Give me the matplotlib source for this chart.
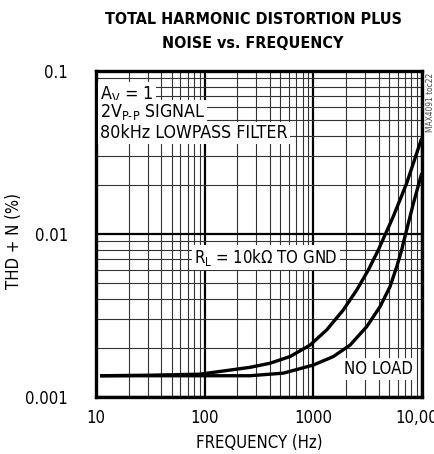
import matplotlib.pyplot as plt
plt.matplotlib.use('Agg')
from matplotlib.ticker import LogLocator, NullFormatter, FixedLocator, FixedFormatter

plt.rcParams['font.family'] = ['DejaVu Sans']
plt.rcParams['font.stretch'] = 'condensed'

# RL = 10k to GND curve (frequency Hz, THD+N %)
freq_10k = [10.9, 31, 91, 262, 400, 612, 935, 1333, 1896, 2519, 3222, 3983,
            5470, 6310, 7270, 10000]
thd_10k = [0.00135, 0.00136, 0.00138, 0.00152, 0.00161, 0.00177, 0.00208, 0.00258,
           0.00342, 0.00453, 0.00601, 0.00798, 0.0128, 0.0162, 0.0205, 0.0387]

# no load curve
freq_noload = [10.9, 31, 91, 262, 531, 1003, 1534, 2186, 3113, 4129, 5105, 5886,
               6541, 6760, 8380, 10000]
thd_noload = [0.00135, 0.00135, 0.00135, 0.00135, 0.0014, 0.00157, 0.00177, 0.00208,
              0.0027, 0.00358, 0.00475, 0.0063, 0.00798, 0.00877, 0.0154, 0.0236]

x_ticks = [10, 100, 1000, 10000]
x_labels = ['10', '100', '1000', '10,000']
y_ticks = [0.001, 0.01, 0.1]
y_labels = ['0.001', '0.01', '0.1']

fig = plt.figure(figsize=(4.34, 4.54), dpi=100)
ax = fig.add_axes([0.2212, 0.1256, 0.7505, 0.718])
ax.set_xscale('log')
ax.set_yscale('log')
ax.set_xlim(10, 10000)
ax.set_ylim(0.001, 0.1)

# grid: thick majors, thin minors
ax.xaxis.set_minor_locator(LogLocator(base=10, subs=range(2, 10)))
ax.yaxis.set_minor_locator(LogLocator(base=10, subs=range(2, 10)))
ax.xaxis.set_minor_formatter(NullFormatter())
ax.yaxis.set_minor_formatter(NullFormatter())
ax.grid(which='major', color='black', linewidth=1.6)
ax.grid(which='minor', color='#333333', linewidth=0.8)
ax.set_axisbelow(True)

ax.xaxis.set_major_locator(FixedLocator(x_ticks))
ax.xaxis.set_major_formatter(FixedFormatter(x_labels))
ax.yaxis.set_major_locator(FixedLocator(y_ticks))
ax.yaxis.set_major_formatter(FixedFormatter(y_labels))
ax.tick_params(which='both', length=0, labelsize=12)
ax.tick_params(axis='y', pad=20)
ax.tick_params(axis='x', pad=9)

for s in ax.spines.values():
    s.set_linewidth(2.4)

ax.plot(freq_10k, thd_10k, color='black', linewidth=2.4, solid_capstyle='butt')
ax.plot(freq_noload, thd_noload, color='black', linewidth=2.4, solid_capstyle='butt')

box = dict(facecolor='white', edgecolor='none', pad=1.5)
ax.text(0.012, 0.93, 'A$_\\mathregular{V}$ = 1', transform=ax.transAxes, fontsize=12.8,
        va='center', ha='left', bbox=box)
ax.text(0.012, 0.873, '2V$_\\mathregular{P\\text{-}P}$ SIGNAL', transform=ax.transAxes, fontsize=12.8,
        va='center', ha='left', bbox=box)
ax.text(0.012, 0.81, '80kHz LOWPASS FILTER', transform=ax.transAxes, fontsize=12.8,
        va='center', ha='left', bbox=box)
ax.text(0.522, 0.429, 'R$_\\mathregular{L}$ = 10k\u03a9 TO GND', transform=ax.transAxes, fontsize=12,
        va='center', ha='center', bbox=box)
ax.text(0.867, 0.086, 'NO LOAD', transform=ax.transAxes, fontsize=12,
        va='center', ha='center', bbox=box)

ax.set_xlabel('FREQUENCY (Hz)', fontsize=12, labelpad=5)
ax.set_ylabel('THD + N (%)', fontsize=12)
ax.yaxis.set_label_coords(-0.2226, 0.478)

fig.text(0.583, 0.958, 'TOTAL HARMONIC DISTORTION PLUS', fontsize=11.5, fontweight='bold',
         ha='center', va='center')
fig.text(0.583, 0.905, 'NOISE vs. FREQUENCY', fontsize=11.5, fontweight='bold',
         ha='center', va='center')
fig.text(0.992, 0.774, 'MAX4091 toc22', fontsize=6, color='#444444', rotation=90,
         ha='center', va='center')

fig.savefig('out.png', dpi=100)
